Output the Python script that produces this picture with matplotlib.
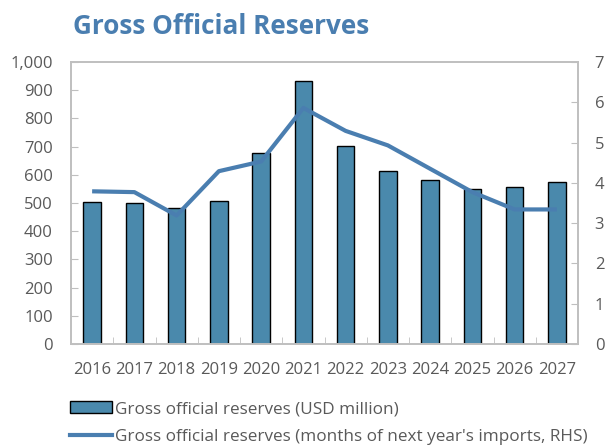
import matplotlib.pyplot as plt
from matplotlib.lines import Line2D
from matplotlib.patches import Patch

plt.rcParams['font.family'] = ['Open Sans', 'DejaVu Sans']

years = ['2016', '2017', '2018', '2019', '2020', '2021',
         '2022', '2023', '2024', '2025', '2026', '2027']
reserves_usd = [504, 500, 481, 507, 677, 933, 701, 612, 580, 551, 558, 576]
months_imports = [3.79, 3.77, 3.19, 4.29, 4.53, 5.86, 5.29, 4.93, 4.35, 3.77, 3.34, 3.34]

bar_col = '#4A89AC'
line_col = '#4A7EB0'
grey = '#595959'
spine_col = '#BFBFBF'

fig = plt.figure(figsize=(6.08, 4.48), dpi=100)
ax = fig.add_axes([71/608, 1 - 344/448, 507/608, 282/448])
ax2 = ax.twinx()

x = list(range(len(years)))
ax.bar(x, reserves_usd, width=0.41, color=bar_col, edgecolor='black', linewidth=1.0, zorder=2)
ax2.plot(x, months_imports, color=line_col, linewidth=3, solid_capstyle='butt', zorder=3)

ax.set_xlim(-0.5, len(years) - 0.5)
ax.set_ylim(0, 1000)
ax2.set_ylim(0, 7)
ax.set_yticks(range(0, 1001, 100))
ax.set_yticklabels([f'{v:,}' for v in range(0, 1001, 100)])
ax2.set_yticks(range(0, 8))

ax.set_xticks(x)
ax.set_xticklabels(years)
ax.set_xticks([i + 0.5 for i in x[:-1]], minor=True)
ax.tick_params(axis='x', which='major', length=0, pad=13, labelsize=12, labelcolor=grey)
ax.tick_params(axis='x', which='minor', direction='in', length=5, color=spine_col)
ax.tick_params(axis='y', direction='in', length=5, color=spine_col, labelsize=12, labelcolor=grey, pad=13)
ax2.tick_params(axis='y', direction='in', length=5, color=spine_col, labelsize=12, labelcolor=grey, pad=12)

for a in (ax, ax2):
    for s in a.spines.values():
        s.set_color(spine_col)
        s.set_linewidth(1.2)

fig.text(73/608, 1 - 27/448, 'Gross Official Reserves', fontsize=18.8, fontweight='bold',
         color='#4A7EB0', va='center', ha='left')

handles = [Patch(facecolor=bar_col, edgecolor='black', linewidth=1.0),
           Line2D([0], [0], color=line_col, linewidth=3)]
labels = ['Gross official reserves (USD million)',
          "Gross official reserves (months of next year's imports, RHS)"]
fig.legend(handles, labels, loc='upper left', bbox_to_anchor=(70/608, 1 - 401/448),
           frameon=False, fontsize=12.3, labelcolor=grey, handlelength=2.45,
           handletextpad=0.2, labelspacing=0.7, borderaxespad=0, borderpad=0)

fig.savefig('out.png', dpi=100)
